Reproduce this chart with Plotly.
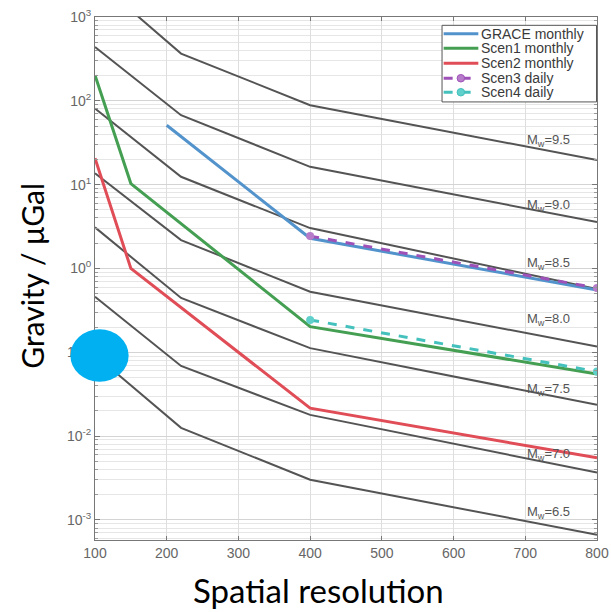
import math
import plotly.graph_objects as go

# ---- data ----
x_mw = [100, 220, 400, 800]
mw_labels = ["9.5", "9.0", "8.5", "8.0", "7.5", "7.0", "6.5"]
mw_values = [
    [2818, 366, 88.7, 19.6],
    [439, 67.3, 16.3, 3.57],
    [80.9, 12.4, 3.03, 0.569],
    [13.7, 2.18, 0.527, 0.117],
    [3.09, 0.444, 0.112, 0.0236],
    [0.460, 0.0687, 0.0179, 0.00367],
    [0.0929, 0.01253, 0.00301, 0.000664],
]
mw_label_x = 700
mw_label_y = [34.0, 5.69, 1.15, 0.243, 0.0356, 0.00597, 0.00122]

grace_x = [200, 400, 800]
grace_y = [51.1, 2.29, 0.553]
scen1_x = [100, 150, 400, 800]
scen1_y = [202, 10.3, 0.202, 0.0551]
scen2_x = [100, 150, 400, 800]
scen2_y = [20.7, 1.0, 0.0215, 0.0055]
scen3_x = [400, 800]
scen3_y = [2.43, 0.583]
scen4_x = [400, 800]
scen4_y = [0.243, 0.0588]

series_names = ["GRACE monthly", "Scen1 monthly", "Scen2 monthly", "Scen3 daily", "Scen4 daily"]
series_colors = ["#5393cc", "#449f52", "#e04d57", "#9e52b8", "#45c1bd"]
marker_colors = [None, None, None, "#b77cc9", "#5fd0cc"]

x_ticks = [100, 200, 300, 400, 500, 600, 700, 800]
y_tickvals = [1e-3, 1e-2, 1e-1, 1, 10, 100, 1000]
y_ticktext = ["10<sup>-3</sup>", "10<sup>-2</sup>", "10<sup>-1</sup>", "10<sup>0</sup>",
              "10<sup>1</sup>", "10<sup>2</sup>", "10<sup>3</sup>"]

fig = go.Figure()

for vals in mw_values:
    fig.add_trace(go.Scatter(x=x_mw, y=vals, mode="lines", showlegend=False,
                             line=dict(color="#545454", width=2), hoverinfo="skip"))

series = [(grace_x, grace_y), (scen1_x, scen1_y), (scen2_x, scen2_y),
          (scen3_x, scen3_y), (scen4_x, scen4_y)]
for i, (sx, sy) in enumerate(series):
    dashed = marker_colors[i] is not None
    fig.add_trace(go.Scatter(
        x=sx, y=sy, mode="lines+markers" if dashed else "lines", name=series_names[i],
        showlegend=False,
        line=dict(color=series_colors[i], width=3, dash="dash" if dashed else "solid"),
        marker=dict(symbol="circle", size=8, color=marker_colors[i]) if dashed else None))

annotations = []
for lab, ly in zip(mw_labels, mw_label_y):
    annotations.append(dict(x=mw_label_x, y=math.log10(ly), xref="x", yref="y",
                            yanchor="middle", xanchor="left", showarrow=False,
                            text="M<sub>w</sub>=" + lab,
                            font=dict(family="Liberation Sans", size=13, color="#555555")))

annotations.append(dict(x=0.446, y=-0.095, xref="paper", yref="paper", showarrow=False,
                        text="Spatial resolution", xanchor="center", yanchor="middle",
                        font=dict(family="Lato", size=33, color="#000000")))
annotations.append(dict(x=-0.1247, y=0.506, xref="paper", yref="paper", showarrow=False,
                        text="Gravity / μGal", textangle=-90, xanchor="center", yanchor="middle",
                        font=dict(family="Lato", size=30, color="#000000")))

# ---- legend box (drawn in paper coordinates) ----
shapes = [dict(type="rect", xref="paper", yref="paper", x0=0.6913, x1=0.999,
               y0=0.8376, y1=0.9841, fillcolor="white", line=dict(color="#555555", width=1),
               layer="above")]
row_y = [0.9679, 0.9403, 0.9117, 0.8829, 0.8562]
for i, ry in enumerate(row_y):
    dashed = marker_colors[i] is not None
    shapes.append(dict(type="line", xref="paper", yref="paper", x0=0.6945, x1=0.7636,
                       y0=ry, y1=ry, layer="above",
                       line=dict(color=series_colors[i], width=3,
                                 dash="dash" if dashed else "solid")))
    if dashed:
        shapes.append(dict(type="circle", xref="paper", yref="paper",
                           x0=0.7288 - 0.0075, x1=0.7288 + 0.0075,
                           y0=ry - 0.0072, y1=ry + 0.0072, layer="above",
                           fillcolor=marker_colors[i], line=dict(color=series_colors[i], width=1)))
    annotations.append(dict(x=0.7656, y=ry, xref="paper", yref="paper", showarrow=False,
                            xanchor="left", yanchor="middle", text=series_names[i],
                            font=dict(family="Liberation Sans", size=14, color="#3a3a3a")))

shapes.append(dict(type="circle", xref="paper", yref="paper",
                   x0=-0.049, x1=0.067, y0=0.3025, y1=0.403,
                   fillcolor="#00b0f0", line=dict(width=0), layer="above"))

fig.update_layout(
    width=611, height=612,
    margin=dict(l=95, r=14, t=17, b=72),
    paper_bgcolor="white", plot_bgcolor="white",
    annotations=annotations,
    shapes=shapes,
    showlegend=False,
)

fig.update_xaxes(range=[100, 800], tickvals=x_ticks, showgrid=True, gridcolor="#dedede",
                 showline=True, linecolor="#777777", mirror="allticks", ticks="inside",
                 ticklen=4, tickcolor="#777777", zeroline=False, automargin=False,
                 tickfont=dict(family="Liberation Sans", size=14, color="#666666"))
fig.update_yaxes(type="log", range=[-3.24, 3.0], tickvals=y_tickvals, ticktext=y_ticktext,
                 showgrid=True, gridcolor="#d4d4d4", automargin=False,
                 showline=True, linecolor="#777777", mirror="allticks", ticks="inside",
                 ticklen=5, tickcolor="#777777", zeroline=False,
                 minor=dict(dtick="D1", showgrid=True, gridcolor="#e6e6e6", ticks="inside",
                            ticklen=3, tickcolor="#999999"),
                 tickfont=dict(family="Liberation Sans", size=14, color="#666666"))

fig.write_html("out.html", config={"displayModeBar": False},
               post_script="document.body.style.margin='0';document.body.style.overflow='hidden';")
